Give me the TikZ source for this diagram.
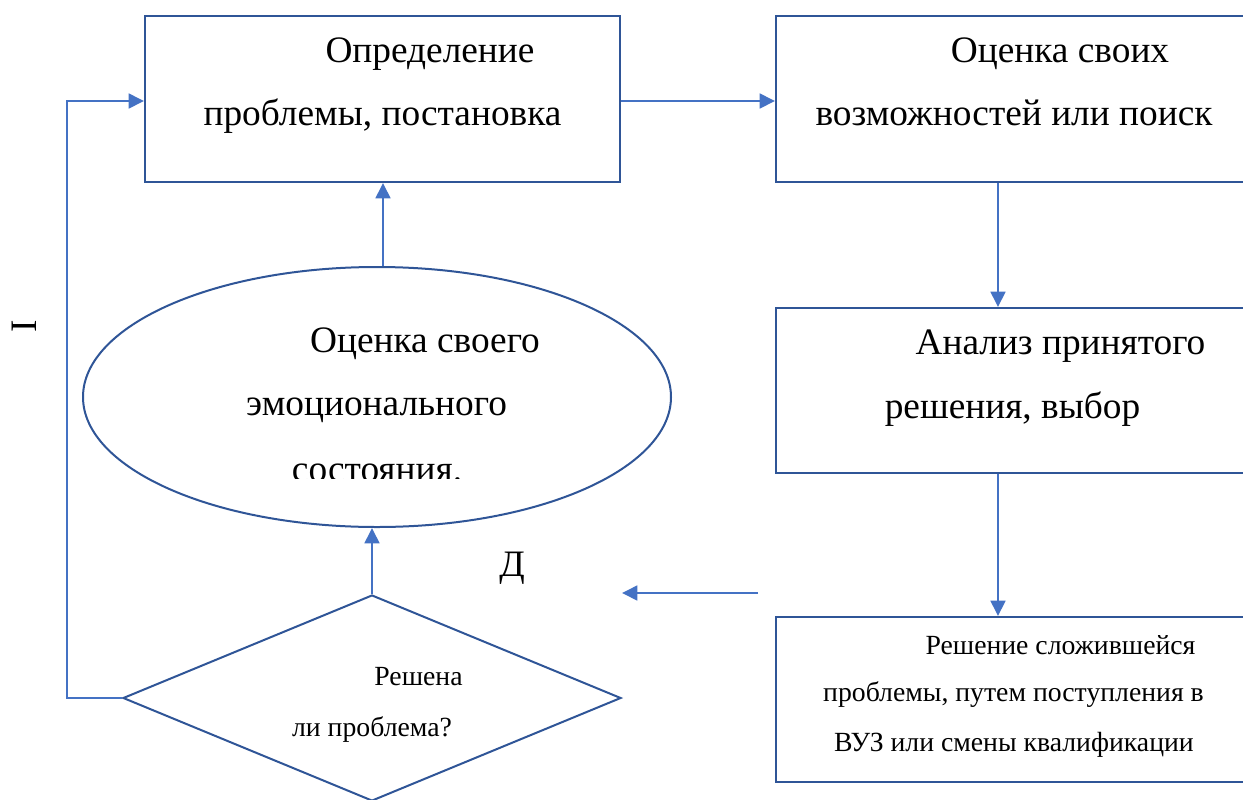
\documentclass[tikz,border=0pt]{standalone}
\usepackage{fontspec}
\setmainfont{Liberation Serif}
\usetikzlibrary{shapes.geometric,arrows.meta}
\definecolor{boxblue}{RGB}{47,85,151}
\definecolor{arrblue}{RGB}{68,114,196}
\begin{document}
\begin{tikzpicture}[x=0.75pt,y=-0.75pt,
  boxc/.style={draw=boxblue,line width=1.5pt,inner sep=0pt,rectangle},
  arr/.style={draw=arrblue,line width=2pt,-{Triangle[length=11.5pt,width=11pt]}},
  bigtxt/.style={anchor=base,inner sep=0pt,font=\fontsize{28}{30}\selectfont},
  smalltxt/.style={anchor=base,inner sep=0pt,font=\fontsize{20.8}{24}\selectfont}]
\useasboundingbox (0,0) rectangle (1243,800);
\clip (0,0) rectangle (1243,800);
% shapes
\node[boxc, minimum width=475*0.75pt, minimum height=166*0.75pt] (b1) at (382.5,99) {};
\node[boxc, minimum width=524*0.75pt, minimum height=166*0.75pt] (b2) at (1038,99) {};
\node[boxc, minimum width=524*0.75pt, minimum height=165*0.75pt] (b3) at (1038,390.5) {};
\node[boxc, minimum width=524*0.75pt, minimum height=165*0.75pt] (b4) at (1038,699.5) {};
\node[draw=boxblue,line width=1.5pt,ellipse,inner sep=0pt, minimum width=588*0.75pt, minimum height=260*0.75pt] (ell) at (377,397) {};
\node[draw=boxblue,line width=1.5pt,diamond,inner sep=0pt, minimum width=498*0.75pt, minimum height=206*0.75pt] (dia) at (372,698) {};
% texts
\node[bigtxt] (t11) at (430,62) {Определение};
\node[bigtxt] (t12) at (382.5,125) {проблемы, постановка};
\node[bigtxt] (t21) at (1060,62) {Оценка своих};
\node[bigtxt] (t22) at (1014,125) {возможностей или поиск};
\node[bigtxt] (t31) at (1060.5,354) {Анализ принятого};
\node[bigtxt] (t32) at (1012.5,418) {решения, выбор};
\node[bigtxt] (te1) at (425,352) {Оценка своего};
\node[bigtxt] (te2) at (376.5,415) {эмоционального};
\begin{scope}
\clip (200,440) rectangle (600,478);
\node[bigtxt] (te3) at (377,481) {состояния.};
\end{scope}
\node[smalltxt] (t41) at (1060.5,654) {Решение сложившейся};
\node[smalltxt] (t42) at (1013.5,701) {проблемы, путем поступления в};
\node[smalltxt] (t43) at (1014,751) {ВУЗ или смены квалификации};
\node[smalltxt] (td1) at (418.5,685) {Решена};
\node[smalltxt] (td2) at (372,736) {ли проблема?};
\node[bigtxt] (yes) at (512,576) {Д};
\node[bigtxt,anchor=center,rotate=90] (no) at (24,326) {I};
% helper coordinates
\coordinate (xr) at (998,0);
\coordinate (xe) at (383,0);
\coordinate (lp) at (67,0);
\coordinate (ay) at (0,101);
\coordinate (fa) at (758,593);
\coordinate (fb) at (622,593);
% connectors
\draw[arr] (b1.east |- ay) -- (b2.west |- ay);
\draw[arr] (b2.south -| xr) -- (b3.north -| xr);
\draw[arr] (b3.south -| xr) -- (b4.north -| xr);
\draw[arr] (ell.north -| xe) -- (b1.south -| xe);
\draw[arr] (dia.north) -- (dia.north |- ell.south);
\draw[arr] (dia.west) -| (lp |- ay) -- (b1.west |- ay);
\draw[arr] (fa) -- (fb);
\end{tikzpicture}
\end{document}
